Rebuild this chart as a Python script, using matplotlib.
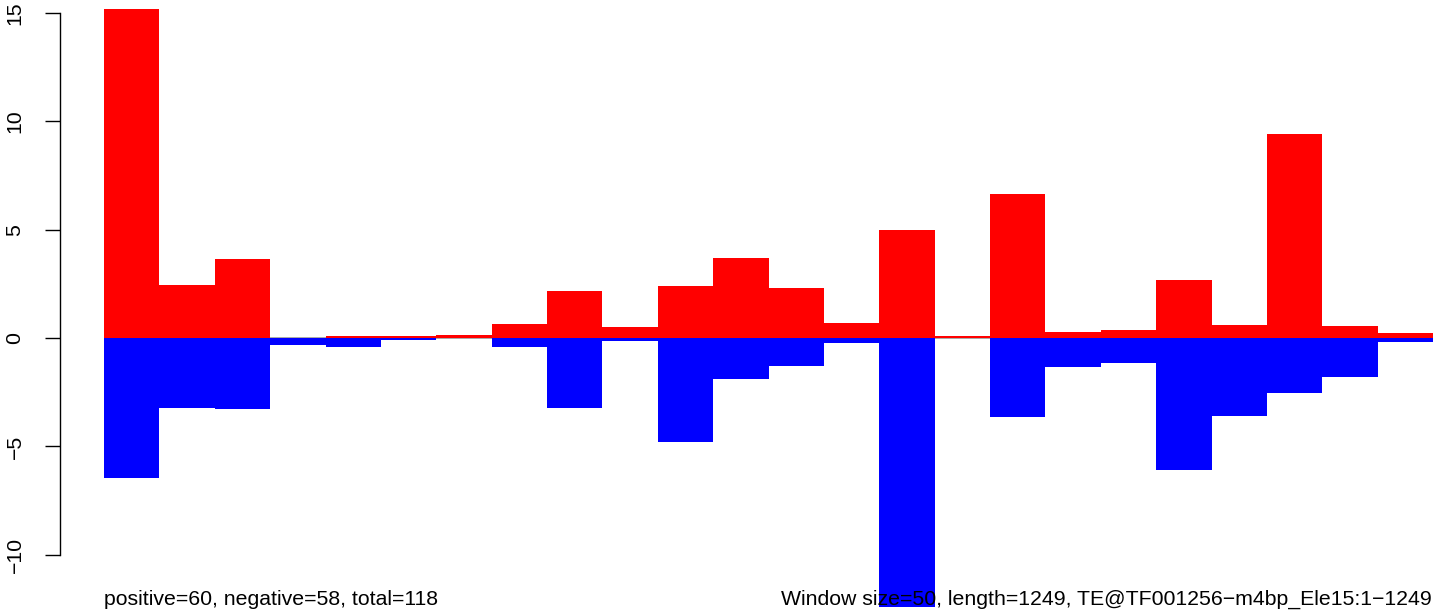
import numpy as np
import matplotlib
matplotlib.use("Agg")
import matplotlib.pyplot as plt

plt.rcParams['font.family'] = ['Liberation Sans', 'DejaVu Sans']

# Window values (24 windows of size 50)
positive = [15.18, 2.44, 3.65, 0.0, 0.10, 0.10, 0.14, 0.64, 2.17, 0.50, 2.40, 3.69,
            2.31, 0.69, 4.98, 0.08, 6.65, 0.29, 0.37, 2.68, 0.60, 9.42, 0.55, 0.22]
negative = [-6.48, -3.23, -3.29, -0.33, -0.42, -0.10, 0.0, -0.41, -3.22, -0.15, -4.78, -1.89,
            -1.28, -0.22, -12.40, 0.0, -3.63, -1.32, -1.14, -6.08, -3.59, -2.52, -1.79, -0.17]
yticks = [-10, -5, 0, 5, 10, 15]
left_note = "positive=60, negative=58, total=118"
right_note = "Window size=50, length=1249, TE@TF001256\u2212m4bp_Ele15:1\u22121249"

W, H = 1433, 613
fig = plt.figure(figsize=(W / 100, H / 100), dpi=100)
ax = fig.add_axes([104 / W, 0, (W - 104) / W, 1])

x = np.arange(len(positive))
ax.axhline(0, color='#999999', lw=1.2, zorder=1)
ax.bar(x, positive, width=1.0, align='edge', color='#ff0000', linewidth=0, zorder=2)
ax.bar(x, negative, width=1.0, align='edge', color='#0000ff', linewidth=0, zorder=2)

ppu = 21.676
ax.set_xlim(0, len(positive))
ax.set_ylim(-(H - 338) / ppu, 338 / ppu)

for s in ['top', 'right', 'bottom']:
    ax.spines[s].set_visible(False)
ax.spines['left'].set_position(('outward', 44.5 * 72 / 100))
ax.spines['left'].set_bounds(-10, 15)
ax.spines['left'].set_linewidth(1.0)
ax.set_xticks([])
ax.set_yticks(yticks)
ax.set_yticklabels([str(t).replace('-', '\u2212') for t in yticks], rotation=90,
                   va='center', fontsize=15.35)
ax.tick_params(axis='y', length=15.5 * 72 / 100, width=1.0, pad=14)
ax.patch.set_alpha(0)

fig.text(104 / W, (H - 605) / H, left_note, ha='left', va='baseline', fontsize=15.35)
fig.text(1432 / W, (H - 605) / H, right_note, ha='right', va='baseline', fontsize=15.35,
         zorder=5)

fig.savefig("out.png", dpi=100)
